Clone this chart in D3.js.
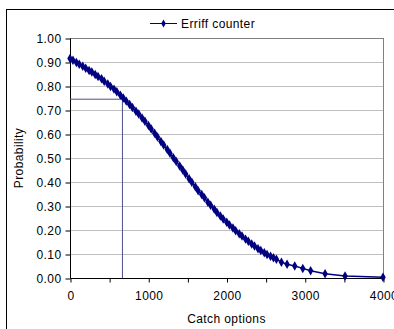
<!DOCTYPE html>
<html><head><meta charset="utf-8">
<script src="https://cdn.jsdelivr.net/npm/d3@7"></script>
<style>body{margin:0;background:#fff;}svg{display:block;font-family:Arial,"Liberation Sans",sans-serif;}</style>
</head><body>
<script>
const catchOptions = [0,38,82,118,163,201,244,279,322,358,403,437,483,518,562,598,643,681,719,762,798,843,878,921,958,1003,1038,1082,1118,1162,1197,1243,1278,1321,1358,1402,1441,1478,1522,1557,1602,1638,1683,1718,1762,1797,1843,1878,1922,1958,2003,2038,2082,2117,2163,2198,2243,2279,2322,2358,2403,2438,2483,2518,2563,2600,2638,2702,2774,2872,2975,3075,3260,3515,4000];
const probability = [0.915,0.907,0.898,0.891,0.882,0.874,0.865,0.858,0.848,0.840,0.830,0.820,0.808,0.798,0.787,0.776,0.762,0.750,0.737,0.723,0.710,0.695,0.683,0.667,0.653,0.635,0.621,0.603,0.588,0.569,0.554,0.535,0.520,0.501,0.485,0.467,0.450,0.433,0.414,0.399,0.380,0.364,0.348,0.334,0.316,0.303,0.287,0.273,0.258,0.246,0.232,0.221,0.208,0.197,0.184,0.175,0.162,0.153,0.142,0.133,0.122,0.115,0.105,0.098,0.091,0.084,0.078,0.066,0.057,0.050,0.040,0.030,0.018,0.008,0.003];
const refPoint = [670, 0.745];
const xTicks = [0,500,1000,1500,2000,2500,3000,3500,4000];
const xLabels = [0,1000,2000,3000,4000];
const yTicks = [0,0.1,0.2,0.3,0.4,0.5,0.6,0.7,0.8,0.9,1.0];
const seriesName = "Erriff counter";

const W=394,H=329;
const FONT=12, LS="0.4px";
const svg=d3.select("body").append("svg").attr("width",W).attr("height",H);
svg.append("rect").attr("x",6.5).attr("y",9.5).attr("width",W).attr("height",H).attr("fill","#fff").attr("stroke","#000").attr("stroke-width",1);

const L=70,R=383,T=38,B=278;
const x=d3.scaleLinear().domain([0,4000]).range([L,R]);
const y=d3.scaleLinear().domain([0,1]).range([B,T]);
const navy="#000080";

// grid
svg.append("g").selectAll("line").data(yTicks.slice(1)).join("line")
 .attr("x1",L).attr("x2",R).attr("y1",d=>Math.round(y(d))+0.5).attr("y2",d=>Math.round(y(d))+0.5)
 .attr("stroke","#c0c0c0").attr("stroke-width",1);
svg.append("rect").attr("x",L+0.5).attr("y",T+0.5).attr("width",R-L).attr("height",B-T).attr("fill","none").attr("stroke","#808080");

// axes
const yAxis=d3.axisLeft(y).tickValues(yTicks).tickFormat(d3.format(".2f")).tickSize(5).tickPadding(4);
const gy=svg.append("g").attr("transform",`translate(${L+0.5},0.5)`).call(yAxis);
const xAxis=d3.axisBottom(x).tickValues(xTicks).tickFormat(d=>xLabels.includes(d)?d:"").tickSize(4).tickPadding(9);
const gx=svg.append("g").attr("transform",`translate(0.5,${B+0.5})`).call(xAxis);
[gx,gy].forEach(g=>{g.selectAll("path,line").attr("stroke","#000");g.selectAll("text").attr("font-size",FONT).attr("letter-spacing",LS).attr("fill","#000").attr("font-family","Arial,'Liberation Sans',sans-serif");});
gx.select(".domain").attr("d",`M${L},0H${R}`);
gy.select(".domain").attr("d",`M0,${T}V${B}`);

// reference lines
svg.append("path").attr("d",`M${L},${y(refPoint[1])}H${x(refPoint[0])}V${B}`)
 .attr("fill","none").attr("stroke","#4d4d8a").attr("stroke-width",1);

// series
const data=catchOptions.map((c,i)=>[c,probability[i]]);
svg.append("path").datum(data).attr("d",d3.line().x(d=>x(d[0])).y(d=>y(d[1])))
 .attr("fill","none").attr("stroke",navy).attr("stroke-width",1.5);
const diamond=d3.symbol().type(d3.symbolDiamond).size(26);
svg.append("g").selectAll("path").data(data).join("path")
 .attr("transform",d=>`translate(${x(d[0])},${y(d[1])})`).attr("d",diamond).attr("fill",navy);

// labels
svg.append("text").attr("x",(L+R)/2).attr("y",323).attr("text-anchor","middle").attr("font-size",FONT).attr("letter-spacing",LS).text("Catch options");
svg.append("text").attr("transform",`translate(23,${(T+B)/2}) rotate(-90)`).attr("text-anchor","middle").attr("font-size",FONT).attr("letter-spacing",LS).text("Probability");

// legend
svg.append("line").attr("x1",150).attr("x2",177).attr("y1",23.5).attr("y2",23.5).attr("stroke",navy).attr("stroke-width",1);
svg.append("path").attr("transform","translate(163.5,23.5)").attr("d",d3.symbol().type(d3.symbolDiamond).size(18)).attr("fill",navy);
svg.append("text").attr("x",181).attr("y",27.5).attr("font-size",FONT).attr("letter-spacing",LS).text(seriesName);
</script>
</body></html>
